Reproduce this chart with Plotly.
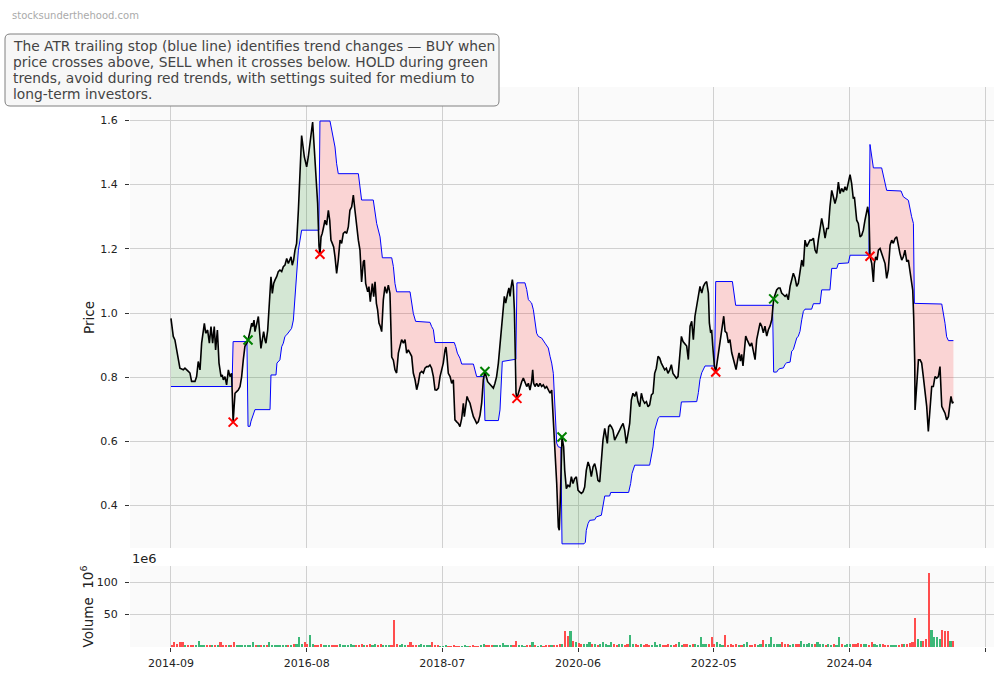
import numpy as np
import plotly.graph_objects as go

# ---------------- data (x = weekly bar number) ----------------
close_pts = [
 (0,.983),(1.7,.927),(2.9,.916),(6.6,.828),(9.1,.823),(10.3,.828),(12.8,.818),(14.0,.813),(15.2,.787),
 (17.7,.787),(18.9,.802),(20.1,.849),(21.4,.823),(22.6,.906),(24.6,.968),(25.6,.937),(27.0,.947),(28.3,.906),
 (29.5,.958),(30.7,.906),(31.9,.958),(32.9,.885),(34.2,.947),(35.4,.844),(36.9,.802),(37.8,.807),(38.6,.792),
 (39.8,.802),(41.0,.776),(42.3,.823),(43.5,.802),(44.7,.812),(45.8,.660),(47.2,.750),(48.4,.755),(49.6,.760),
 (50.9,.771),(52.1,.802),(53.3,.854),(54.5,.896),(55.8,.905),(56.8,.916),(58.2,.942),(59.5,.968),(60.2,.958),
 (61.2,.978),(61.9,.942),(63.1,.968),(64.4,.989),(65.6,.927),(66.3,.890),(67.3,.916),(68.3,.942),(69.3,.916),
 (70.0,.906),(71.3,.947),(72.2,.999),(73.7,1.113),(74.7,1.061),(75.7,1.092),(76.7,1.103),(77.9,1.113),
 (79.1,1.129),(80.3,1.134),(81.6,1.129),(82.8,1.144),(84.0,1.149),(85.3,1.170),(86.5,1.154),(87.5,1.165),
 (88.5,1.175),(89.4,1.149),(90.4,1.165),(91.4,1.196),(92.6,1.217),(93.9,1.32),(95.1,1.424),(96.3,1.553),
 (98.3,1.486),(100.0,1.455),(101.2,1.486),(102.9,1.548),(104.4,1.595),(105.7,1.507),(106.9,1.424),
 (108.1,1.341),(109.1,1.208),(109.8,1.183),(110.6,1.237),(111.5,1.248),(112.5,1.268),(113.5,1.289),
 (114.7,1.274),(116.0,1.32),(117.0,1.289),(117.9,1.227),(118.9,1.217),(119.9,1.206),(120.9,1.175),
 (122.1,1.123),(123.3,1.165),(124.6,1.227),(125.8,1.217),(127.0,1.248),(128.3,1.253),(129.5,1.248),
 (130.7,1.268),(131.9,1.32),(133.2,1.331),(134.4,1.367),(135.6,1.32),(136.9,1.258),(138.1,1.227),
 (139.3,1.196),(140.5,1.097),(141.8,1.160),(142.5,1.165),(143.5,1.092),(145.0,1.066),(145.9,1.082),
 (146.9,1.035),(148.4,1.092),(149.4,1.051),(150.4,1.097),(151.4,1.030),(152.3,1.01),(153.3,.969),
 (154.3,.958),(155.3,.942),(156.5,1.04),(157.7,1.082),(159.0,1.061),(160.2,1.087),(161.4,1.061),
 (162.7,.863),(163.9,.853),(165.1,.823),(166.3,.813),(167.6,.875),(168.8,.896),(170.0,.917),(171.3,.906),
 (172.5,.917),(173.7,.875),(174.9,.885),(176.2,.875),(177.4,.865),(178.6,.813),(179.9,.792),(181.1,.761),
 (182.3,.782),(183.5,.813),(184.8,.818),(186.0,.813),(187.2,.828),(188.5,.833),(189.7,.833),(190.9,.838),
 (192.1,.828),(193.4,.802),(194.6,.761),(195.8,.760),(197.1,.766),(198.3,.802),(199.5,.828),(200.7,.844),
 (202.0,.885),(202.7,.894),(203.4,.865),(204.4,.812),(205.7,.802),(206.9,.781),(208.1,.792),(209.3,.667),
 (210.6,.661),(211.8,.656),(213.0,.646),(214.3,.672),(215.5,.719),(216.2,.677),(217.2,.708),(218.2,.740),
 (219.2,.729),(220.4,.719),(221.6,.698),(222.9,.677),(224.1,.667),(225.3,.656),(226.5,.661),(227.8,.682),
 (229.0,.719),(230.2,.792),(231.4,.818),(232.2,.802),(233.4,.786),(234.4,.781),(235.6,.776),(236.4,.771),
 (237.6,.766),(238.8,.781),(240.0,.802),(241.3,.844),(242.5,.906),(243.7,.958),(245.0,1.031),(245.7,1.052),
 (246.7,1.031),(247.4,1.042),(248.2,1.063),(249.1,1.078),(249.9,1.052),(250.6,1.078),(251.6,1.104),
 (252.3,1.083),(253.1,1.010),(253.8,.865),(254.3,.750),(255.0,.734),(256.0,.750),(257.2,.766),(258.5,.786),
 (259.7,.797),(260.9,.786),(262.2,.771),(263.4,.781),(264.6,.760),(265.8,.786),(266.6,.823),(267.3,.781),
 (268.3,.771),(269.5,.781),(270.8,.771),(272.0,.781),(273.2,.771),(274.4,.776),(275.7,.766),(276.9,.771),
 (278.1,.760),(279.4,.750),(280.6,.760),(281.8,.677),(283.0,.583),(284.3,.469),(285.5,.333),(286.2,.323),
 (287.0,.427),(288.2,.614),(289.4,.583),(290.2,.510),(291.4,.453),(292.6,.464),(293.9,.458),(295.1,.490),
 (296.3,.469),(297.5,.484),(298.8,.490),(300.0,.448),(301.2,.443),(302.5,.438),(303.7,.443),(304.9,.458),
 (306.1,.510),(307.4,.536),(308.6,.521),(309.8,.490),(311.1,.521),(312.3,.531),(313.5,.510),(314.7,.479),
 (316.0,.474),(317.2,.552),(318.4,.604),(319.7,.641),(320.9,.615),(321.6,.594),(322.6,.646),(323.6,.651),
 (324.6,.646),(325.8,.635),(327.0,.604),(328.3,.615),(329.5,.620),(330.7,.635),(331.9,.646),(333.2,.656),
 (334.4,.635),(335.6,.594),(336.9,.625),(338.1,.656),(339.3,.729),(340.5,.750),(341.8,.740),(343.0,.755),
 (344.2,.724),(345.5,.708),(346.7,.750),(347.9,.729),(349.1,.719),(350.4,.724),(351.6,.708),(352.8,.714),
 (354.1,.745),(355.3,.750),(356.5,.812),(357.7,.828),(359.0,.865),(360.2,.859),(361.4,.844),(362.7,.833),
 (363.9,.823),(365.1,.828),(366.3,.812),(367.6,.823),(368.8,.839),(370.0,.812),(371.3,.802),(372.5,.797),
 (373.7,.802),(374.9,.854),(376.2,.927),(377.4,.911),(378.6,.906),(380.1,.897),(381.3,.855),(382.6,.959),
 (383.8,.974),(385.0,.917),(386.2,.990),(387.5,1.021),(388.7,1.052),(389.9,1.083),(391.2,1.062),
 (392.4,1.083),(393.6,1.093),(394.8,1.098),(396.1,1.062),(396.8,.969),(397.8,.938),(398.5,.948),
 (399.3,.897),(400.5,.835),(401.5,.816),(402.9,.855),(404.2,.897),(405.4,.938),(406.4,.964),(407.4,.990),
 (408.4,.943),(409.6,.938),(410.8,.907),(412.0,.917),(413.3,.876),(414.5,.855),(415.7,.835),(416.5,.824),
 (417.7,.855),(418.7,.876),(419.7,.850),(420.6,.871),(421.6,.835),(422.6,.876),(423.6,.928),(424.6,.917),
 (425.6,.907),(426.8,.897),(428.0,.907),(429.2,.876),(430.5,.855),(431.7,.917),(432.9,.948),(434.2,.969),
 (435.4,.959),(436.6,.938),(437.8,.959),(439.1,.928),(440.3,.948),(441.5,.959),(442.8,.979),(443.6,1.021),
 (444.2,1.044),(446.4,1.072),(447.7,1.078),(448.9,1.078),(450.1,1.062),(451.4,1.057),(452.6,1.052),
 (453.8,1.057),(455.0,1.041),(456.3,1.083),(457.5,1.103),(458.7,1.124),(460.0,1.109),(461.2,1.083),
 (462.4,1.093),(463.6,1.124),(464.9,1.165),(466.1,1.145),(467.3,1.227),(468.6,1.207),(469.8,1.217),
 (471.0,1.227),(472.2,1.227),(473.5,1.233),(474.7,1.196),(475.9,1.186),(477.1,1.227),(478.4,1.269),
 (479.6,1.295),(480.8,1.269),(482.1,1.233),(483.3,1.263),(484.5,1.263),(485.7,1.331),(487.0,1.382),
 (488.2,1.362),(489.4,1.341),(490.7,1.362),(491.9,1.408),(493.1,1.372),(494.3,1.388),(495.6,1.377),
 (496.8,1.393),(498.0,1.382),(499.3,1.403),(500.5,1.431),(501.7,1.403),(502.9,1.356),(503.7,1.362),
 (504.7,1.300),(505.4,1.289),(506.6,1.279),(507.9,1.237),(509.1,1.242),(510.3,1.258),(511.5,1.289),
 (512.8,1.325),(513.5,1.331),(514.5,1.300),(515.2,1.177),(516.5,1.154),(517.7,1.097),(518.4,1.154),
 (519.4,1.175),(520.4,1.165),(521.4,1.196),(522.6,1.201),(523.8,1.185),(525.1,1.165),(526.3,1.154),
 (527.5,1.108),(528.7,1.134),(530.0,1.211),(531.2,1.227),(532.4,1.217),(533.7,1.232),(534.9,1.237),
 (536.1,1.206),(537.3,1.185),(538.6,1.165),(539.8,1.175),(541.0,1.196),(542.3,1.160),(543.5,1.165),
 (544.7,1.134),(545.9,1.103),(546.7,1.071),(547.4,.989),(548.2,.844),(548.4,.698),(549.6,.781),
 (550.9,.854),(552.1,.854),(553.3,.844),(554.5,.802),(555.8,.750),(557.0,.709),(558.2,.631),(559.5,.698),
 (560.7,.771),(561.9,.771),(563.1,.802),(564.4,.797),(565.6,.802),(566.8,.833),(568.1,.709),(569.3,.698),
 (570.5,.688),(571.7,.667),(573.0,.677),(574.2,.719),(574.9,.740),(575.9,.719),(576.7,.724),
]

stop_pts = [
 (0,.771),(45.0,.771),(45.8,.911),(56.0,.911),(56.8,.647),(58.2,.647),(59.0,.663),(60.7,.689),(61.9,.699),
 (73.0,.699),(73.7,.807),(77.4,.807),(78.1,.844),(80.3,.854),(81.6,.895),(82.8,.906),(84.0,.927),(85.3,.932),
 (87.0,.942),(88.9,.952),(90.2,.978),(91.4,1.051),(92.6,1.113),(93.9,1.196),(95.1,1.227),(96.3,1.258),
 (109.0,1.258),(109.8,1.598),(117.2,1.598),(118.4,1.569),(119.7,1.548),(120.9,1.517),(122.1,1.465),
 (123.3,1.434),(138.1,1.434),(139.3,1.397),(140.5,1.352),(149.1,1.352),(150.4,1.32),(151.6,1.279),
 (154.1,1.237),(155.8,1.172),(162.7,1.172),(163.9,1.145),(165.1,1.092),(166.3,1.066),(176.2,1.066),
 (177.4,1.030),(178.6,.999),(180.3,.974),(190.9,.971),(192.1,.958),(193.4,.948),(194.6,.908),(208.8,.908),
 (209.8,.896),(211.1,.875),(213.0,.859),(214.3,.841),(222.9,.841),(224.1,.823),(225.3,.802),(230.6,.802),
 (231.4,.665),(241.3,.665),(242.5,.698),(244.2,.849),(254.2,.856),(255.0,1.094),(260.9,1.094),
 (262.2,1.073),(263.4,1.042),(264.6,1.036),(265.8,1.031),(267.1,1.010),(268.3,.969),(269.5,.937),
 (270.8,.927),(273.2,.922),(275.7,.906),(278.1,.891),(279.4,.865),(280.6,.844),(281.8,.812),(283.0,.708),
 (284.3,.594),(285.5,.583),(287.4,.581),(288.2,.281),(304.4,.281),(305.4,.286),(306.1,.323),(307.4,.344),
 (308.6,.354),(312.3,.356),(313.5,.365),(317.2,.370),(318.4,.396),(319.7,.430),(323.3,.430),(324.1,.441),
 (337.3,.441),(338.8,.469),(339.8,.500),(341.8,.526),(352.8,.526),(354.1,.552),(355.3,.583),(356.5,.635),
 (357.7,.656),(359.0,.672),(360.2,.677),(374.9,.677),(376.2,.723),(387.5,.724),(388.7,.752),(389.9,.793),
 (391.2,.814),(392.4,.824),(393.6,.835),(400.7,.835),(401.5,1.098),(413.8,1.098),(415.0,1.062),
 (416.2,1.024),(443.4,1.024),(444.2,.816),(446.4,.816),(447.7,.824),(448.9,.827),(451.4,.829),(452.6,.840),
 (453.8,.845),(456.3,.847),(457.5,.881),(458.7,.886),(460.0,.907),(461.2,.922),(462.4,.928),(463.6,.943),
 (464.9,.979),(466.1,1.005),(467.3,1.012),(472.2,1.012),(473.5,1.029),(478.4,1.029),(479.6,1.072),
 (485.7,1.072),(487.0,1.139),(490.7,1.139),(491.9,1.154),(499.3,1.156),(500.5,1.180),(514.4,1.180),
 (515.2,1.525),(516.5,1.486),(517.7,1.452),(523.8,1.452),(525.1,1.424),(527.5,1.382),(538.1,1.380),
 (539.8,1.362),(543.5,1.351),(544.7,1.320),(545.9,1.300),(547.2,1.279),(547.9,1.030),(568.1,1.028),
 (569.3,.999),(570.5,.968),(571.7,.926),(573.0,.914),(576.7,.914),
]

sig_idx   = [45.8, 56.8, 109.8, 231.4, 255.0, 288.2, 401.5, 444.2, 515.2]
sig_price = [0.660, 0.916, 1.183, 0.818, 0.734, 0.614, 0.816, 1.044, 1.177]
sig_side  = ['SELL', 'BUY', 'SELL', 'BUY', 'SELL', 'BUY', 'SELL', 'BUY', 'SELL']

# volume, millions of shares, two-week bins starting at bar 0
vol_m = [
 3, 8, 4, 8, 8, 3, 3, 3, 2, 3,   9, 3, 2, 3, 2, 3, 2, 3, 8, 3,
 3, 2, 3, 8, 3, 3, 2, 3, 2, 3,   7, 3, 2, 3, 2, 3, 7, 3, 2, 2,
 2, 3, 2, 3, 3, 4, 5, 16, 5, 7,  4, 19, 4, 3, 3, 4, 2, 2, 2, 3,
 3, 2, 4, 3, 2, 3, 4, 3, 2, 3,   4, 3, 3, 5, 3, 4, 3, 5, 3, 2,
 3, 3, 42, 5, 3, 4, 3, 3, 7, 3,  3, 2, 4, 3, 2, 3, 7, 3, 2, 1,
 1, 2, 1, 1, 2, 1, 1, 1, 2, 1,   1, 2, 1, 1, 2, 5, 3, 2, 2, 3,
 2, 3, 6, 2, 3, 2, 3, 9, 2, 2,   1, 2, 2, 8, 2, 1, 2, 1, 2, 2,
 2, 3, 3, 4, 4, 25, 17, 25, 9, 8, 6, 5, 4, 5, 8, 4, 5, 3, 4, 8,
 4, 3, 8, 4, 3, 5, 4, 3, 5, 19,  5, 4, 3, 4, 3, 4, 3, 3, 7, 3,
 4, 3, 2, 4, 3, 3, 4, 7, 3, 4,   4, 3, 5, 4, 3, 16, 5, 4, 5, 16,
 5, 7, 4, 3, 19, 3, 4, 3, 4, 3,  3, 4, 7, 3, 2, 4, 3, 4, 11, 4,
 4, 16, 5, 4, 5, 7, 5, 4, 3, 4,  5, 4, 9, 5, 4, 6, 4, 5, 7, 5,
 4, 3, 5, 3, 4, 3, 16, 4, 3, 4,  4, 5, 4, 6, 5, 4, 4, 3, 8, 5,
 3, 4, 4, 3, 2, 3, 2, 2, 3, 5,   4, 5, 6, 8, 45, 12, 9, 10, 12, 114,
 26, 15, 15, 12, 26, 25, 25, 10, 9,
]

tick_pos = [0, 100, 200, 300, 400, 500]
tick_text = ['2014-09', '2016-08', '2018-07', '2020-06', '2022-05', '2024-04']
extra_tick = [600]          # unlabeled last tick
price_ticks = [0.4, 0.6, 0.8, 1.0, 1.2, 1.4, 1.6]
vol_ticks = [50, 100]

note_lines = [
    "The ATR trailing stop (blue line) identifies trend changes \u2014 BUY when",
    "price crosses above, SELL when it crosses below. HOLD during green",
    "trends, avoid during red trends, with settings suited for medium to",
    "long-term investors.",
]

# ---------------- build ----------------
cx = np.array([p[0] for p in close_pts]); cy = np.array([p[1] for p in close_pts])
sx = np.array([p[0] for p in stop_pts]); sy = np.array([p[1] for p in stop_pts])

FONT = "DejaVu Sans"
GREEN_FILL = "rgba(0,128,0,0.15)"
RED_FILL = "rgba(255,0,0,0.15)"

fig = go.Figure()

bounds = [cx[0]] + sig_idx + [cx[-1]]
regime = 'up'  # first signal is a SELL, so the start is an up-trend
for k in range(len(bounds) - 1):
    a, b = bounds[k], bounds[k + 1]
    last = (k == len(bounds) - 2)
    m = (cx >= a) & (cx <= b)
    ms = (sx >= a) & ((sx <= b) if last else (sx < b))
    xs = list(cx[m]) + list(sx[ms][::-1])
    ys = list(cy[m]) + list(sy[ms][::-1])
    fig.add_trace(go.Scatter(x=xs, y=ys, fill='toself', mode='lines', line=dict(width=0),
                             fillcolor=GREEN_FILL if regime == 'up' else RED_FILL,
                             hoverinfo='skip', showlegend=False, xaxis='x', yaxis='y'))
    if k < len(sig_side):
        regime = 'up' if sig_side[k] == 'BUY' else 'down'

fig.add_trace(go.Scatter(x=sx, y=sy, mode='lines', line=dict(color='blue', width=1),
                         name='ATR stop', showlegend=False, xaxis='x', yaxis='y'))
fig.add_trace(go.Scatter(x=cx, y=cy, mode='lines', line=dict(color='black', width=1.6),
                         name='Close', showlegend=False, xaxis='x', yaxis='y'))
for side, col in (('BUY', '#008000'), ('SELL', '#ff0000')):
    xi = [sig_idx[i] for i in range(len(sig_idx)) if sig_side[i] == side]
    yi = [sig_price[i] for i in range(len(sig_idx)) if sig_side[i] == side]
    fig.add_trace(go.Scatter(x=xi, y=yi, mode='markers', name=side, showlegend=False,
                             marker=dict(symbol='x-thin', size=9, line=dict(width=2, color=col), color=col),
                             xaxis='x', yaxis='y'))

# volume bars, coloured by the price move over the bin
vx = np.arange(len(vol_m)) * 2 + 0.5
prev = np.interp(vx - 2, cx, cy)
cur = np.interp(vx, cx, cy)
vcol = ['#3cb878' if c >= p else '#ff4d4d' for c, p in zip(cur, prev)]
fig.add_trace(go.Bar(x=vx, y=vol_m, width=1.6, marker=dict(color=vcol, line=dict(width=0)),
                     showlegend=False, xaxis='x2', yaxis='y2'))

L, R, T, B = 130, 10, 87, 31
W, H = 1004, 678
pw = W - L - R
ph = H - T - B
XR = [-30.2, 606.6]
grid = '#d0d0d0'


def px_x(v):
    return (v - L) / pw


def px_y(v):
    return (H - B - v) / ph


minor_x = dict(tickvals=extra_tick, ticks='outside', ticklen=4, tickcolor='#333',
               showgrid=True, gridcolor=grid, gridwidth=1)

fig.update_layout(
    width=W, height=H, margin=dict(l=L, r=R, t=T, b=B, autoexpand=False),
    paper_bgcolor='white', plot_bgcolor='#fafafa',
    font=dict(family=FONT, size=11, color='#222'),
    bargap=0,
    xaxis=dict(domain=[0, 1], anchor='y', range=XR, tickvals=tick_pos, showticklabels=False,
               showgrid=True, gridcolor=grid, gridwidth=1, zeroline=False, showline=False, ticks='',
               automargin=False, minor=dict(tickvals=extra_tick, ticks='', showgrid=True,
                                            gridcolor=grid, gridwidth=1)),
    yaxis=dict(domain=[px_y(548), 1], anchor='x', range=[0.268, 1.704],
               tickvals=price_ticks, ticktext=[f'{v:.1f}' for v in price_ticks],
               ticks='outside', ticklen=4, tickcolor='#333', showgrid=True, gridcolor=grid,
               zeroline=False, showline=False, tickfont=dict(size=11), automargin=False,
               ticklabelstandoff=5,
               title=dict(text='Price', font=dict(size=13.5, color='#222'), standoff=2)),
    xaxis2=dict(domain=[0, 1], anchor='y2', range=XR, matches='x', tickvals=tick_pos,
                ticktext=tick_text, ticks='outside', ticklen=4, tickcolor='#333',
                showgrid=True, gridcolor=grid, zeroline=False, showline=False, tickfont=dict(size=11),
                automargin=False, ticklabelstandoff=2, minor=minor_x),
    yaxis2=dict(domain=[0, px_y(566)], anchor='x2', range=[0, 125], tickvals=vol_ticks,
                ticks='outside', ticklen=4, tickcolor='#333', showgrid=True, gridcolor=grid,
                zeroline=False, showline=False, tickfont=dict(size=11), automargin=False,
                ticklabelstandoff=5,
                title=dict(text='Volume  10<sup>6</sup>', font=dict(size=13.5, color='#222'), standoff=0)),
)

# rounded info box
x0, x1, y0, y1, r = 5, 499, 34, 106, 5
path = (f"M {px_x(x0 + r)},{px_y(y0)} L {px_x(x1 - r)},{px_y(y0)} "
        f"Q {px_x(x1)},{px_y(y0)} {px_x(x1)},{px_y(y0 + r)} L {px_x(x1)},{px_y(y1 - r)} "
        f"Q {px_x(x1)},{px_y(y1)} {px_x(x1 - r)},{px_y(y1)} L {px_x(x0 + r)},{px_y(y1)} "
        f"Q {px_x(x0)},{px_y(y1)} {px_x(x0)},{px_y(y1 - r)} L {px_x(x0)},{px_y(y0 + r)} "
        f"Q {px_x(x0)},{px_y(y0)} {px_x(x0 + r)},{px_y(y0)} Z")
fig.add_shape(type='path', path=path, xref='paper', yref='paper',
              line=dict(color='#808080', width=1), fillcolor='#f7f7f7', layer='above')
for j, line in enumerate(note_lines):
    fig.add_annotation(xref='paper', yref='paper', x=px_x(11), y=px_y(46 + 16 * j),
                       xanchor='left', yanchor='middle', align='left', showarrow=False, text=line,
                       font=dict(family=FONT, size=13.8, color='#444'))

fig.add_annotation(xref='paper', yref='paper', x=px_x(10), y=px_y(15),
                   xanchor='left', yanchor='middle', showarrow=False, text='stocksunderthehood.com',
                   font=dict(family=FONT, size=10, color='#aaaaaa'))
fig.add_annotation(xref='paper', yref='paper', x=0, y=px_y(558),
                   xanchor='left', yanchor='middle', showarrow=False, text='1e6',
                   font=dict(family=FONT, size=13, color='#222'))

fig.write_html('out.html', config={'displayModeBar': False},
               post_script="document.body.style.margin='0';")
